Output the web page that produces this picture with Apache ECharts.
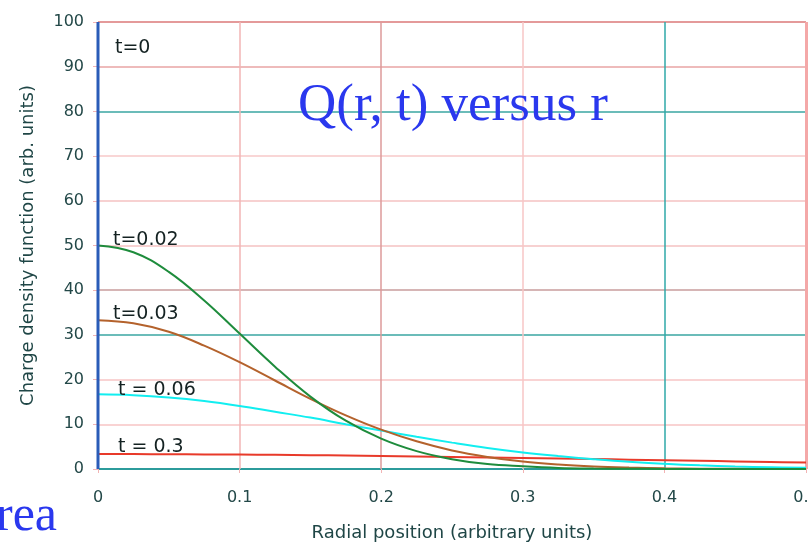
<!DOCTYPE html>
<html>
<head>
<meta charset="utf-8">
<script src="https://cdn.jsdelivr.net/npm/echarts@6/dist/echarts.min.js"></script>
<style>html,body{margin:0;padding:0;background:#fff;overflow:hidden;width:809px;height:543px;}#c{width:809px;height:543px;}</style>
</head>
<body>
<div id="c"></div>
<script>
// ---- data ----
const radius = [0,0.025,0.05,0.075,0.1,0.125,0.15,0.175,0.2,0.225,0.25,0.275,0.3,0.325,0.35,0.375,0.4,0.425,0.45,0.475,0.5];
const q_t002 = [50,48.5,44.1,37.7,30.3,22.9,16.2,10.8,6.8,4.0,2.2,1.1,0.6,0.25,0.1,0.05,0.02,0,0,0,0];
const q_t003 = [33.3,32.6,30.7,27.6,23.9,19.8,15.7,12.0,8.8,6.2,4.15,2.7,1.66,0.99,0.56,0.31,0.16,0.08,0.04,0.02,0.01];
const q_t006 = [16.7,16.5,16.0,15.2,14.1,12.8,11.5,10.0,8.6,7.2,5.9,4.7,3.7,2.9,2.2,1.6,1.16,0.82,0.57,0.39,0.26];
const q_t03  = [3.33,3.33,3.31,3.27,3.22,3.16,3.09,3.01,2.92,2.82,2.71,2.59,2.47,2.34,2.22,2.09,1.96,1.83,1.70,1.57,1.45];
const t0_r = [0,0];
const t0_q = [0,100];
const xTicks = [0,0.1,0.2,0.3,0.4,0.5];
const yTicks = [0,10,20,30,40,50,60,70,80,90,100];
const curveLabels = ['t=0','t=0.02','t=0.03','t = 0.06','t = 0.3'];
const titleText = 'Q(r, t) versus r';
const xName = 'Radial position (arbitrary units)';
const yName = 'Charge density function (arb. units)';

// ---- styles (kept separate from data) ----
const yGridStyle = {10:['#f7c4c4',1.5],20:['#f7c4c4',1.5],30:['#3aa6a2',1.5],40:['#c99c9c',1.5],50:['#f5c2c2',1.5],60:['#f5c2c2',1.5],70:['#f7c8c8',1.5],80:['#3aa6a2',1.5],90:['#e8a4a4',1.5],100:['#e49a9a',2]};
const xGridStyle = {0.1:['#f2b4b4',1.5],0.2:['#dc9a9a',1.5],0.3:['#f7c6c6',1.5],0.4:['#2fa8a8',1.5],0.5:['#f4a8a8',3]};
const labelPos = [[115,49],[113,241],[113,315],[118,391],[118,448]];

const pairs = (xs, ys) => xs.map((x,i)=>[x, ys[i]]);

const gridMarks = [];
yTicks.forEach(v => { if (yGridStyle[v]) gridMarks.push({yAxis: v, lineStyle:{color:yGridStyle[v][0], width:yGridStyle[v][1], type:'solid'}}); });
xTicks.forEach(v => { if (xGridStyle[v]) gridMarks.push({xAxis: v, lineStyle:{color:xGridStyle[v][0], width:xGridStyle[v][1], type:'solid'}}); });

const font = 'DejaVu Sans';
const chart = echarts.init(document.getElementById('c'), null, {renderer:'canvas', width:809, height:543});
chart.setOption({
  animation: false,
  backgroundColor: '#ffffff',
  grid: {left: 98, right: 3, top: 22, bottom: 74, containLabel: false, outerBoundsMode: 'none'},
  xAxis: {
    type: 'value', min: 0, max: 0.5, interval: 0.1,
    name: xName, nameLocation: 'middle', nameGap: 55,
    nameTextStyle: {fontFamily: font, fontSize: 18, color: '#1f4646'},
    axisLine: {show: true, onZero: false, lineStyle: {color: '#2c9c9c', width: 2}},
    axisTick: {show: true, length: 4, lineStyle: {color: '#f2b4b4'}},
    axisLabel: {margin: 21, fontFamily: font, fontSize: 16, color: '#234848'},
    splitLine: {show: false}
  },
  yAxis: {
    type: 'value', min: 0, max: 100, interval: 10,
    name: yName, nameLocation: 'middle', nameGap: 61, nameRotate: 90,
    nameTextStyle: {fontFamily: font, fontSize: 18, color: '#1f4646'},
    axisLine: {show: false},
    axisTick: {show: true, length: 5, lineStyle: {color: '#f2b4b4'}},
    axisLabel: {margin: 14, fontFamily: font, fontSize: 16, color: '#234848'},
    splitLine: {show: false}
  },
  series: [
    {type:'line', name:'grid', data: pairs([0,0.5],[0,0]), symbol:'none', lineStyle:{opacity:0}, silent:true,
     markLine:{silent:true, z:1, symbol:['none','none'], label:{show:false}, data: gridMarks}},
    {type:'line', name:'t=0.3', data: pairs(radius, q_t03), symbol:'none', smooth:0.4, lineStyle:{color:'#e83a2a', width:2}, z:3},
    {type:'line', name:'t=0.06', data: pairs(radius, q_t006), symbol:'none', smooth:0.4, lineStyle:{color:'#12eef0', width:2}, z:3},
    {type:'line', name:'t=0.03', data: pairs(radius, q_t003), symbol:'none', smooth:0.4, lineStyle:{color:'#b4622c', width:2}, z:4},
    {type:'line', name:'t=0.02', data: pairs(radius, q_t002), symbol:'none', smooth:0.4, lineStyle:{color:'#1e8c3c', width:2}, z:5},
    {type:'line', name:'t=0', data: pairs(t0_r, t0_q), symbol:'none', lineStyle:{color:'#2a5cb8', width:3}, z:6}
  ],
  graphic: [
    ...curveLabels.map((t,i)=>({type:'text', left: labelPos[i][0], top: labelPos[i][1]-10, z:10,
      style:{text:t, font:'19px "DejaVu Sans"', fill:'#142222'}})),
    {type:'text', left: 298, top: 80, z:10, style:{text:titleText, font:'53px "Liberation Serif"', fill:'#2a38ee'}},
    {type:'text', left: -4, top: 492, z:10, style:{text:'rea', font:'50px "Liberation Serif"', fill:'#2a38ee'}}
  ]
});
</script>
</body>
</html>
